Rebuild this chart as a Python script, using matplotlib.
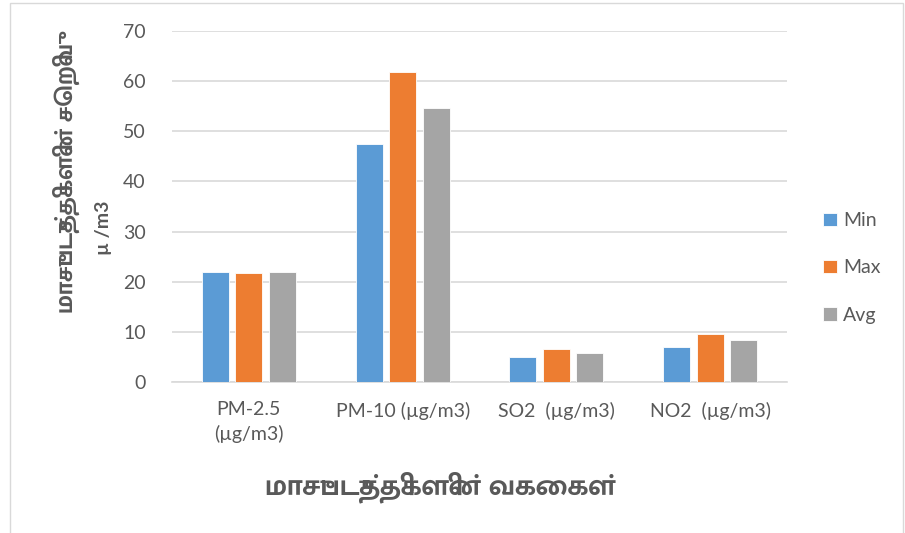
import matplotlib
matplotlib.use("Agg")
import matplotlib.pyplot as plt
import numpy as np
from matplotlib.patches import Rectangle

categories = ["PM-2.5\n(µg/m3)", "PM-10 (µg/m3)", "SO2  (µg/m3)", "NO2  (µg/m3)"]
min_vals = [22.0, 47.5, 5.0, 7.0]
max_vals = [21.7, 61.9, 6.5, 9.6]
avg_vals = [21.9, 54.7, 5.8, 8.3]

series_names = ["Min", "Max", "Avg"]
colors = ["#5b9bd5", "#ed7d31", "#a5a5a5"]

tamil = ["Mukta Malar", "DejaVu Sans"]
latin = ["Lato", "DejaVu Sans"]
grey = "#595959"

fig = plt.figure(figsize=(9.05, 5.33), dpi=100)
ax = fig.add_axes([172 / 905, 1 - 382 / 533, (787 - 172) / 905, (382 - 31) / 533])

x = np.arange(len(categories))
width = 0.175
step = 0.218
for i, (vals, name) in enumerate(zip([min_vals, max_vals, avg_vals], series_names)):
    ax.bar(x + (i - 1) * step, vals, width, color=colors[i], label=name,
           edgecolor="white", linewidth=0.6, zorder=3)

ax.set_xlim(-0.5, len(categories) - 0.5)
ax.set_ylim(0, 70)
ax.set_yticks(range(0, 71, 10))
ax.grid(axis="y", color="#d9d9d9", linewidth=1.2, zorder=0)
ax.set_axisbelow(True)
for s in ["top", "right", "left"]:
    ax.spines[s].set_visible(False)
ax.spines["bottom"].set_color("#d9d9d9")
ax.spines["bottom"].set_linewidth(1.2)

ax.set_xticks(x)
ax.set_xticklabels(categories, fontfamily=latin, fontsize=14, color=grey,
                   linespacing=1.45)
ax.tick_params(axis="x", length=0, pad=14)
ax.tick_params(axis="y", length=0, pad=19, labelsize=14, labelcolor=grey)
for lab in ax.get_yticklabels():
    lab.set_fontfamily(latin)
for lab in ax.get_xticklabels():
    lab.set_verticalalignment("top")

# axis titles
fig.text(66 / 905, 1 - 178 / 533, "மாசுபடுத்திகளின் செறிவு", rotation=90,
         ha="center", va="center", fontfamily=tamil, fontweight="bold",
         fontsize=18, color=grey)
fig.text(103 / 905, 1 - 228 / 533, "µ /m3", rotation=90,
         ha="center", va="center", fontfamily=latin, fontweight="bold",
         fontsize=14, color=grey)
fig.text(440 / 905, 1 - 487 / 533, "மாசுபடுத்திகளின் வகைகள்",
         ha="center", va="center", fontfamily=tamil, fontweight="bold",
         fontsize=21, color=grey)

leg = ax.legend(loc="center left", bbox_to_anchor=(1.03, 0.325), frameon=False,
                prop={"family": latin, "size": 14}, labelspacing=1.55,
                handlelength=0.7, handleheight=0.7, handletextpad=0.35)
for t in leg.get_texts():
    t.set_color(grey)

# chart border
fig.patches.append(Rectangle((10 / 905, -0.05), 893 / 905, 1.05 - 3 / 533,
                             transform=fig.transFigure, fill=False,
                             edgecolor="#d9d9d9", linewidth=1.0))

fig.savefig("out.png", dpi=100)
